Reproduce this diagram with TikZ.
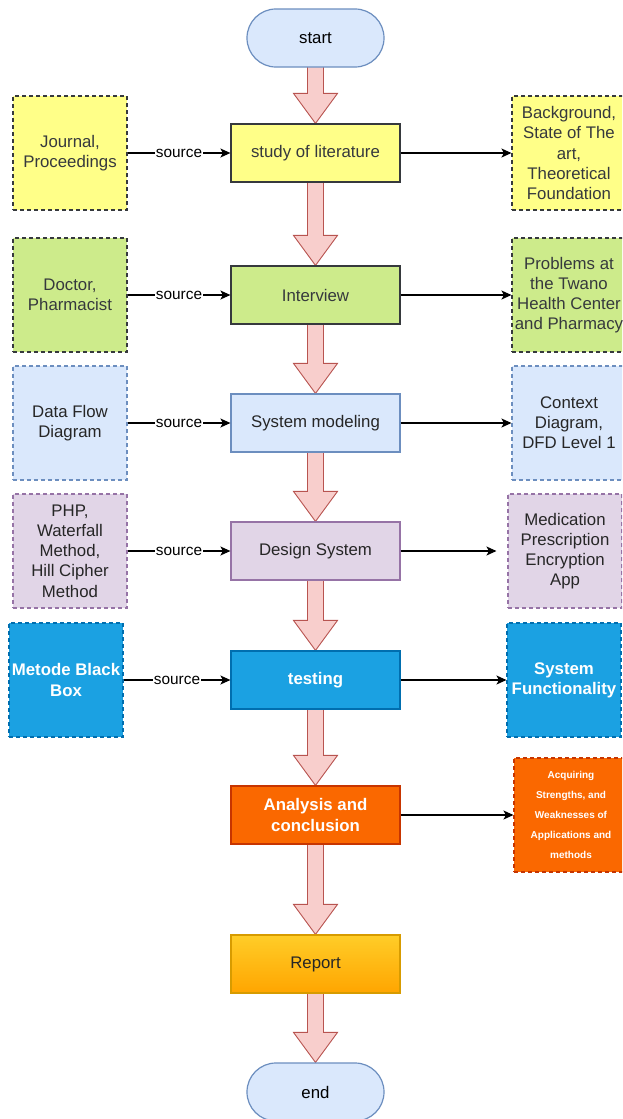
\documentclass[tikz,border=0pt]{standalone}
\usepackage{fontspec}
\setmainfont{Liberation Sans}
\usetikzlibrary{arrows.meta,calc}
\definecolor{ylwF}{HTML}{FFFF88}
\definecolor{ylwD}{HTML}{36393D}
\definecolor{grnF}{HTML}{CDEB8B}
\definecolor{bluF}{HTML}{DAE8FC}
\definecolor{bluD}{HTML}{6C8EBF}
\definecolor{purF}{HTML}{E1D5E7}
\definecolor{purD}{HTML}{9673A6}
\definecolor{tstF}{HTML}{1BA1E2}
\definecolor{tstD}{HTML}{006EAF}
\definecolor{orgF}{HTML}{FA6800}
\definecolor{orgD}{HTML}{C73500}
\definecolor{repT}{HTML}{FFCD28}
\definecolor{repB}{HTML}{FFA500}
\definecolor{repD}{HTML}{D79B00}
\definecolor{pnkF}{HTML}{F8CECC}
\definecolor{pnkD}{HTML}{B85450}
\pgfdeclarelayer{back}
\pgfdeclarelayer{bg}
\pgfsetlayers{back,bg,main}
\tikzset{
  txt/.style={font=\fontsize{16.8}{20.2}\selectfont, align=center, inner sep=0pt},
  proc/.style={txt, draw, line width=1.2pt, minimum width=169pt, minimum height=58pt},
  side/.style={txt, draw, line width=1.1pt, dash pattern=on 4pt off 3pt, minimum width=114pt, minimum height=114pt},
  term/.style={txt, draw=bluD, fill=bluF, line width=1.2pt, minimum width=137pt, minimum height=58pt, rounded corners=28.9pt},
  yl/.style={fill=ylwF, draw=ylwD, text=ylwD},
  gr/.style={fill=grnF, draw=ylwD, text=ylwD},
  bl/.style={fill=bluF, draw=bluD, text=black!85},
  pu/.style={fill=purF, draw=purD, text=black!85},
  ts/.style={fill=tstF, draw=tstD, text=white, font=\fontsize{16.8}{20.2}\selectfont\bfseries},
  og/.style={fill=orgF, draw=orgD, text=white, font=\fontsize{16.8}{20.2}\selectfont\bfseries},
  conn/.style={line width=1.3pt, -{Stealth[length=10pt,width=9pt,inset=2.5pt]}},
  lbl/.style={fill=white, inner sep=0.8pt, font=\fontsize{15.4}{18}\selectfont},
  bigarr/.style={fill=pnkF, draw=pnkD, line width=0.9pt, line join=miter}
}
\newcommand\fatarrow[2]{%
  \begin{pgfonlayer}{bg}
  \draw[bigarr] ($(#1.south)+(-8,-3)$) -- ($(#2.north)+(-8,-30)$) -- ($(#2.north)+(-22,-30)$) -- (#2.north) -- ($(#2.north)+(22,-30)$) -- ($(#2.north)+(8,-30)$) -- ($(#1.south)+(8,-3)$) -- cycle;
  \end{pgfonlayer}}
\begin{document}
\begin{tikzpicture}[x=1pt,y=-1pt]
\useasboundingbox (0,0) rectangle (622,1119);
\clip (0,0) rectangle (622,1119);
\begin{pgfonlayer}{back}
\fill[white] (0,0) rectangle (622,1119);
\end{pgfonlayer}

% main column
\node[term] (start) at (315.5,38) {start};
\node[proc, yl] (s1) at (315.5,153) {study of literature};
\node[proc, gr] (s2) at (315.5,295) {Interview};
\node[proc, bl] (s3) at (315.5,423) {System modeling};
\node[proc, pu] (s4) at (315.5,551) {Design System};
\node[proc, ts] (s5) at (315.5,680) {testing};
\node[proc, og] (s6) at (315.5,815) {Analysis and\\conclusion};
\node[proc, draw=repD, top color=repT, bottom color=repB, text=black!85] (s7) at (315.5,964) {Report};
\node[term] (end) at (315.5,1092) {end};

% left sources
\node[side, yl] (l1) at (70,153) {Journal,\\Proceedings};
\node[side, gr] (l2) at (70,295) {Doctor,\\Pharmacist};
\node[side, bl] (l3) at (70,423) {Data Flow\\Diagram};
\node[side, pu] (l4) at (70,551) {PHP,\\Waterfall\\Method,\\Hill Cipher\\Method};
\node[side, ts] (l5) at (66,680) {Metode Black\\Box};

% right results
\node[side, yl] (r1) at (569,153) {Background,\\State of The\\art,\\Theoretical\\Foundation};
\node[side, gr] (r2) at (569,295) {Problems at\\the Twano\\Health Center\\and Pharmacy};
\node[side, bl] (r3) at (569,423) {Context\\Diagram,\\DFD Level 1};
\node[side, pu] (r4) at (565,551) {Medication\\Prescription\\Encryption\\App};
\node[side, ts] (r5) at (564,680) {System\\Functionality};
\node[side, og, font=\fontsize{10}{20}\selectfont\bfseries] (r6) at (571,815) {Acquiring\\Strengths, and\\Weaknesses of\\Applications and\\methods};

% big flow arrows
\fatarrow{start}{s1}
\fatarrow{s1}{s2}
\fatarrow{s2}{s3}
\fatarrow{s3}{s4}
\fatarrow{s4}{s5}
\fatarrow{s5}{s6}
\fatarrow{s6}{s7}
\fatarrow{s7}{end}

% source connectors
\draw[conn] (l1.east) -- node[lbl]{source} (s1.west);
\draw[conn] (l2.east) -- node[lbl]{source} (s2.west);
\draw[conn] (l3.east) -- node[lbl]{source} (s3.west);
\draw[conn] (l4.east) -- node[lbl]{source} (s4.west);
\draw[conn] (l5.east) -- node[lbl]{source} (s5.west);

% result connectors
\draw[conn] (s1.east) -- (r1.west);
\draw[conn] (s2.east) -- (r2.west);
\draw[conn] (s3.east) -- (r3.west);
\draw[conn, shorten >=11pt] (s4.east) -- (r4.west);
\draw[conn] (s5.east) -- (r5.west);
\draw[conn] (s6.east) -- (r6.west);
\end{tikzpicture}
\end{document}
